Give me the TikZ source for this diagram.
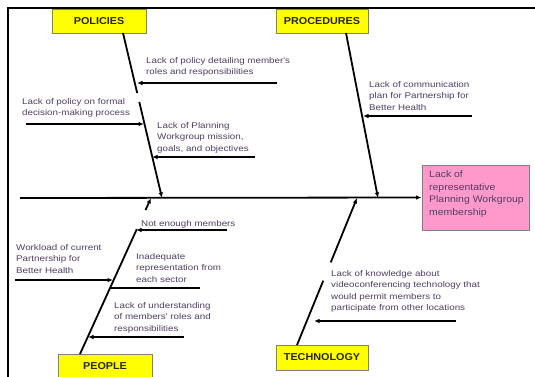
\documentclass[tikz,border=0pt]{standalone}
\usepackage{fontspec}
\setmainfont{Liberation Sans}
\newfontfamily\lblfont[FakeStretch=1.18]{Liberation Sans}
\newfontfamily\hdrfont[FakeStretch=1.08]{Liberation Sans}
\newfontfamily\efffont[FakeStretch=1.1]{Liberation Sans}
\usetikzlibrary{arrows.meta,calc}
\definecolor{txt}{RGB}{80,62,98}
\definecolor{ylw}{RGB}{255,255,0}
\definecolor{pnk}{RGB}{255,153,204}
\definecolor{bord}{RGB}{128,128,128}
\begin{document}
\begin{tikzpicture}[x=1pt,y=-1pt,
  hdr/.style={draw=bord,fill=ylw,line width=0.8pt,minimum height=24pt,inner sep=0pt,
    text=black!85,font=\hdrfont\bfseries\fontsize{10}{12}\selectfont},
  lbl/.style={anchor=north west,inner sep=0pt,align=left,text=txt,
    font=\lblfont\fontsize{8.3}{11.5}\selectfont},
  bone/.style={line width=1.8pt,draw=black},
  sub/.style={line width=1.5pt,draw=black},
  tip/.style={-{Latex[length=5.5pt,width=4.5pt]}}
]
\useasboundingbox (0,0) rectangle (535,376);
\fill[white] (0,0) rectangle (535,376);
% frame
\draw[line width=2.5pt] (8,380) -- (8,8) -- (540,8);

% category boxes and effect
\node[hdr,minimum width=94pt] (pol) at (99,21) {POLICIES};
\node[hdr,minimum width=92pt] (proc) at (322,21) {PROCEDURES};
\node[hdr,minimum width=94pt] (peo) at (105,366) {PEOPLE};
\node[hdr,minimum width=92pt,minimum height=25pt] (tech) at (322,357.5) {TECHNOLOGY};
\node[draw=bord,fill=pnk,line width=0.8pt,minimum width=107pt,minimum height=65pt,inner sep=0pt] (eff) at (475.5,197.5) {};
\node[anchor=north west,inner sep=0pt,align=left,text=txt,font=\efffont\fontsize{9.5}{12.5}\selectfont] (efft) at (429,170.5) {Lack of\\representative\\Planning Workgroup\\membership};

% coordinates
\coordinate (spL) at (20,198);
\coordinate (polT) at (123,33);  \coordinate (polE) at (162,198);
\coordinate (procT) at (346,33); \coordinate (procE) at (378,198);
\coordinate (peoT) at (80,354);  \coordinate (peoE) at (151,198);
\coordinate (techT) at (297,345); \coordinate (techE) at (357,198);

% spine
\draw[bone,tip] (spL) -- (eff.west);

% bones
\draw[bone] (polT) -- ($(polT)!0.364!(polE)$);
\draw[bone,tip] ($(polT)!0.418!(polE)$) -- (polE);
\draw[bone,tip] (procT) -- (procE);
\draw[bone] (peoT) -- ($(peoT)!0.8!(peoE)$);
\draw[bone,tip] ($(peoT)!0.923!(peoE)$) -- (peoE);
\draw[bone] (techT) -- ($(techT)!0.438!(techE)$);
\draw[bone,tip] ($(techT)!0.562!(techE)$) -- (techE);

% sub-cause arrows
\coordinate (a1s) at (277,83);  \coordinate (a1e) at (137,83);
\coordinate (a2s) at (26,124);  \coordinate (a2e) at (144,124);
\coordinate (a3s) at (255,157); \coordinate (a3e) at (152,157);
\coordinate (c1s) at (472,116); \coordinate (c1e) at (363,116);
\coordinate (b1s) at (227,230); \coordinate (b1e) at (136,230);
\coordinate (b2s) at (15,280);  \coordinate (b2e) at (113,280);
\coordinate (b3s) at (200,288); \coordinate (b3e) at (110,288);
\coordinate (b4s) at (184,337); \coordinate (b4e) at (88,337);
\coordinate (d1s) at (456,321); \coordinate (d1e) at (314,321);

\draw[sub,tip] (a1s) -- (a1e);
\draw[sub,tip] (a2s) -- (a2e);
\draw[sub,tip] (a3s) -- (a3e);
\draw[sub,tip] (c1s) -- (c1e);
\draw[sub,tip] (b1s) -- (b1e);
\draw[sub,tip] (b2s) -- (b2e);
\draw[sub] (b3s) -- (b3e);
\draw[sub,tip] (b4s) -- (b4e);
\draw[sub,tip] (d1s) -- (d1e);

% labels
\node[lbl] (t1) at (146,56.8) {Lack of policy detailing member's\\roles and responsibilities};
\node[lbl] (t2) at (22,97.8) {Lack of policy on formal\\decision-making process};
\node[lbl] (t3) at (157,121.8) {Lack of Planning\\Workgroup mission,\\goals, and objectives};
\node[lbl] (t4) at (369,80.8) {Lack of communication\\plan for Partnership for\\Better Health};
\node[lbl] (t5) at (141,219.8) {Not enough members};
\node[lbl] (t6) at (16,243.8) {Workload of current\\Partnership for\\Better Health};
\node[lbl] (t7) at (136,252.8) {Inadequate\\representation from\\each sector};
\node[lbl] (t8) at (114,301.8) {Lack of understanding\\of members' roles and\\responsibilities};
\node[lbl] (t9) at (331,269.8) {Lack of knowledge about\\videoconferencing technology that\\would permit members to\\participate from other locations};
\end{tikzpicture}
\end{document}
